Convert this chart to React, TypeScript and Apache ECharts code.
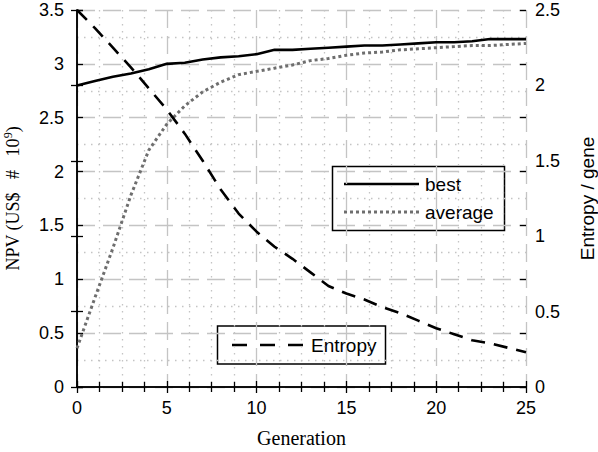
import React, { useEffect, useRef } from "react";
import * as echarts from "echarts";

const generations = [0, 1, 2, 3, 4, 5, 6, 7, 8, 9, 10, 11, 12, 13, 14, 15, 16, 17, 18, 19, 20, 21, 22, 23, 24, 25];
const best = [2.8, 2.84, 2.88, 2.91, 2.95, 3.0, 3.01, 3.04, 3.06, 3.07, 3.09, 3.13, 3.13, 3.14, 3.15, 3.16, 3.17, 3.17, 3.18, 3.19, 3.2, 3.2, 3.21, 3.23, 3.23, 3.23];
const average = [0.36, 0.83, 1.29, 1.78, 2.2, 2.44, 2.61, 2.74, 2.83, 2.9, 2.93, 2.96, 2.99, 3.03, 3.05, 3.08, 3.1, 3.11, 3.13, 3.14, 3.15, 3.16, 3.17, 3.17, 3.18, 3.19];
const entropy = [2.5, 2.38, 2.25, 2.12, 1.98, 1.84, 1.68, 1.5, 1.31, 1.15, 1.03, 0.93, 0.85, 0.76, 0.67, 0.62, 0.58, 0.53, 0.49, 0.44, 0.39, 0.35, 0.31, 0.29, 0.26, 0.23];

const seriesNames = ["best", "average", "Entropy"];
const leftAxisName = "NPV (US$\u00a0\u00a0\u00a0#\u00a0\u00a0\u00a010{sup|9})";
const rightAxisName = "Entropy / gene";
const xAxisName = "Generation";

const SANS = "Liberation Sans, Arial, sans-serif";
const SERIF = "Liberation Serif, Times New Roman, serif";

const majorGrid = { color: "#c4c4c4", width: 1.3, type: [18, 8] as any };
const minorGrid = { color: "#c4c4c4", width: 1.3, type: [1.5, 5.5] as any };

const bestStyle = { color: "#000", width: 2.6, type: "solid" as any };
const avgStyle = { color: "#6e6e6e", width: 3, type: [3, 3] as any };
const entStyle = { color: "#000", width: 2.6, type: [14, 9] as any };

export default function App() {
  const ref = useRef<HTMLDivElement>(null);
  useEffect(() => {
    if (!ref.current) return;
    const chart = echarts.init(ref.current, null, { renderer: "svg" });
    const pair = (arr: number[]) => generations.map((g, i) => [g, arr[i]]);
    const axisLine = { show: true, lineStyle: { color: "#000", width: 1.5 } };
    const tick = { show: true, inside: true, length: 6, lineStyle: { color: "#000", width: 1.3 } };
    const label = { color: "#000", fontSize: 18, fontFamily: SANS };

    chart.setOption({
      animation: false,
      backgroundColor: "#fff",
      grid: { left: 77, right: 72, top: 10, bottom: 65, containLabel: false, outerBoundsMode: "none" },
      xAxis: [
        {
          type: "value",
          min: 0,
          max: 25,
          interval: 5,
          position: "bottom",
          axisLine,
          axisTick: tick,
          minorTick: { show: true, splitNumber: 4, length: 5, lineStyle: { color: "#000", width: 1.3 } },
          axisLabel: { ...label, margin: 12 },
          splitLine: { show: true, lineStyle: majorGrid },
          minorSplitLine: { show: true, lineStyle: minorGrid },
          name: xAxisName,
          nameLocation: "middle",
          nameGap: 41,
          nameTextStyle: { color: "#000", fontSize: 20, fontFamily: SERIF },
        },
        {
          type: "value",
          min: 0,
          max: 25,
          interval: 5,
          position: "top",
          axisLine,
          axisTick: tick,
          minorTick: { show: true, splitNumber: 4, length: 5, lineStyle: { color: "#000", width: 1.3 } },
          axisLabel: { show: false },
          splitLine: { show: false },
        },
      ],
      yAxis: [
        {
          type: "value",
          min: 0,
          max: 3.5,
          interval: 0.5,
          position: "left",
          axisLine,
          axisTick: tick,
          minorTick: { show: false, splitNumber: 2 },
          axisLabel: { ...label, margin: 13 },
          splitLine: { show: true, lineStyle: majorGrid },
          minorSplitLine: { show: true, lineStyle: minorGrid },
          name: leftAxisName,
          nameLocation: "middle",
          nameGap: 54,
          nameTextStyle: {
            color: "#000",
            fontSize: 18,
            fontFamily: SERIF,
            rich: {
              sup: { fontSize: 12, fontFamily: SERIF, color: "#000", verticalAlign: "bottom", padding: [0, 0, 9, 0] },
            },
          },
        },
        {
          type: "value",
          min: 0,
          max: 2.5,
          interval: 0.5,
          position: "right",
          axisLine,
          axisTick: tick,
          axisLabel: { ...label, margin: 9 },
          splitLine: { show: false },
          name: rightAxisName,
          nameLocation: "middle",
          nameGap: 52,
          nameTextStyle: { color: "#000", fontSize: 19, fontFamily: SANS },
        },
        {
          type: "value",
          min: 0,
          max: 2.5,
          interval: 0.5,
          position: "left",
          axisLine: { show: false },
          axisTick: tick,
          axisLabel: { show: false },
          splitLine: { show: false },
        },
        {
          type: "value",
          min: 0,
          max: 3.5,
          interval: 0.5,
          position: "right",
          axisLine: { show: false },
          axisTick: tick,
          axisLabel: { show: false },
          splitLine: { show: false },
        },
      ],
      series: [
        {
          name: seriesNames[0],
          type: "line",
          xAxisIndex: 0,
          yAxisIndex: 0,
          data: pair(best),
          showSymbol: false,
          symbol: "none",
          lineStyle: bestStyle,
          z: 5,
        },
        {
          name: seriesNames[1],
          type: "line",
          xAxisIndex: 0,
          yAxisIndex: 0,
          data: pair(average),
          showSymbol: false,
          symbol: "none",
          lineStyle: avgStyle,
          z: 4,
        },
        {
          name: seriesNames[2],
          type: "line",
          xAxisIndex: 0,
          yAxisIndex: 1,
          data: pair(entropy),
          showSymbol: false,
          symbol: "none",
          lineStyle: entStyle,
          z: 4,
        },
      ],
      graphic: [
        {
          type: "group",
          z: 100,
          children: [
            { type: "rect", shape: { x: 332.5, y: 166.5, width: 172, height: 64 }, style: { fill: "#fff", stroke: "#000", lineWidth: 1.5 } },
            { type: "line", shape: { x1: 344, y1: 184, x2: 419, y2: 184 }, style: { stroke: bestStyle.color, lineWidth: bestStyle.width } },
            { type: "text", x: 425, y: 184, style: { text: seriesNames[0], fill: "#000", font: `19px ${SANS}`, verticalAlign: "middle" } },
            { type: "line", shape: { x1: 344, y1: 212, x2: 419, y2: 212 }, style: { stroke: avgStyle.color, lineWidth: avgStyle.width, lineDash: [3, 3] } },
            { type: "text", x: 425, y: 212, style: { text: seriesNames[1], fill: "#000", font: `19px ${SANS}`, verticalAlign: "middle" } },
          ],
        },
        {
          type: "group",
          z: 100,
          children: [
            { type: "rect", shape: { x: 217.5, y: 326, width: 168, height: 38 }, style: { fill: "#fff", stroke: "#000", lineWidth: 1.5 } },
            { type: "line", shape: { x1: 232, y1: 345, x2: 305, y2: 345 }, style: { stroke: "#000", lineWidth: entStyle.width, lineDash: [15, 13] } },
            { type: "text", x: 311, y: 345, style: { text: seriesNames[2], fill: "#000", font: `19px ${SANS}`, verticalAlign: "middle" } },
          ],
        },
      ],
    });
    return () => chart.dispose();
  }, []);
  return <div ref={ref} style={{ position: "fixed", left: 0, top: 0, width: 598, height: 452 }} />;
}
